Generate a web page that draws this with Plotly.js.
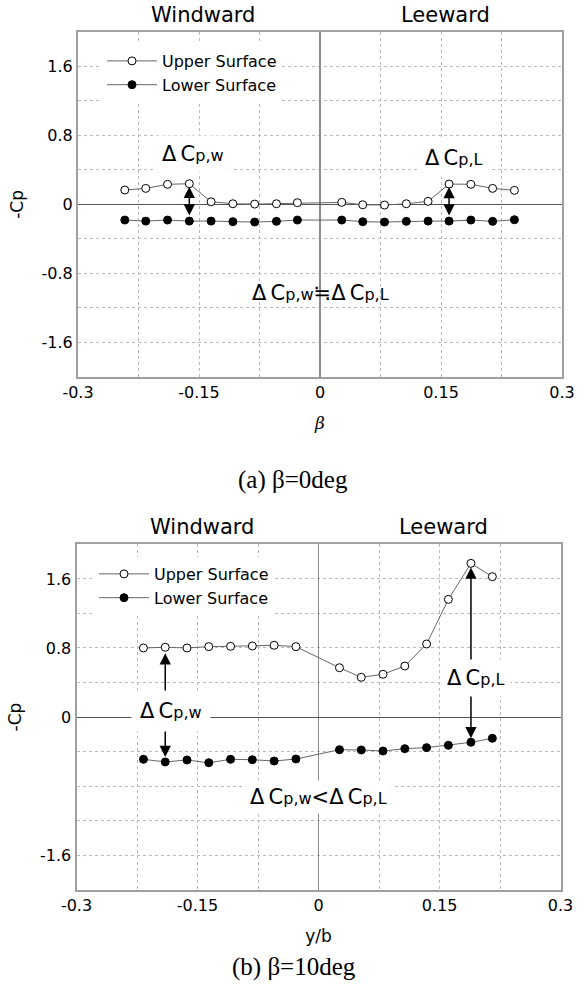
<!DOCTYPE html>
<html><head><meta charset="utf-8">
<script src="https://cdn.plot.ly/plotly-3.0.1.min.js"></script>
<style>html,body{margin:0;padding:0;background:#fff}#chart{width:585px;height:1004px}</style>
</head><body><div id="chart"></div>
<script>
// ---- data ----
const seriesNames = ['Upper Surface', 'Lower Surface'];
const xTicks = [-0.3, -0.15, 0, 0.15, 0.3];
const xTickLabels = ['-0.3', '-0.15', '0', '0.15', '0.3'];
const yTicksTop = [-1.6, -0.8, 0, 0.8, 1.6];
const yTickLabelsTop = ['-1.6', '-0.8', '0', '0.8', '1.6'];
const yTicksBot = [-1.6, 0, 0.8, 1.6];
const yTickLabelsBot = ['-1.6', '0', '0.8', '1.6'];

// (a) beta = 0 deg
const xA = [-0.242, -0.216, -0.189, -0.162, -0.135, -0.108, -0.081, -0.054, -0.028,
             0.027, 0.053, 0.080, 0.107, 0.134, 0.160, 0.187, 0.214, 0.241];
const upperA = [0.166, 0.185, 0.232, 0.239, 0.030, 0.007, 0.003, 0.007, 0.019,
                0.023, -0.005, -0.008, 0.007, 0.035, 0.235, 0.232, 0.185, 0.162];
const lowerA = [-0.182, -0.194, -0.182, -0.194, -0.194, -0.201, -0.205, -0.197, -0.182,
                -0.182, -0.201, -0.205, -0.197, -0.194, -0.194, -0.182, -0.197, -0.178];

// (b) beta = 10 deg
const xB = [-0.217, -0.190, -0.163, -0.136, -0.109, -0.082, -0.055, -0.028,
             0.026, 0.053, 0.080, 0.107, 0.134, 0.161, 0.189, 0.2155];
const upperB = [0.800, 0.808, 0.800, 0.815, 0.819, 0.823, 0.831, 0.815,
                0.571, 0.460, 0.495, 0.591, 0.846, 1.363, 1.780, 1.626];
const lowerB = [-0.490, -0.521, -0.498, -0.530, -0.490, -0.495, -0.510, -0.487,
                -0.379, -0.382, -0.394, -0.367, -0.355, -0.328, -0.293, -0.247];

// indices of the points marked with delta arrows
const iWA = 3, iLA = 14, iWB = 1, iLB = 14;

// ---- styling ----
const FONT = 'DejaVu Sans, Verdana, sans-serif';
const GRID = '#b8b8b8';
const H = 1004, W = 585;
const py = v => 1 - v / H, px = v => v / W;

function dcp(sub, big, small) {
  return 'Δ\u2009C<span style="font-size:' + small + 'px">p,' + sub + '</span>';
}

function xaxis(domain, anchor, title, italic) {
  return {
    domain: domain, anchor: anchor, range: [-0.3, 0.3],
    tickvals: xTicks, ticktext: xTickLabels, ticks: '',
    tickfont: {size: 16, color: '#000'},
    showgrid: true, gridcolor: GRID, griddash: 'dot', gridwidth: 1,
    minor: {tick0: 0, dtick: 0.075, showgrid: true, gridcolor: GRID, griddash: 'dot', gridwidth: 1, ticks: ''},
    zeroline: true, zerolinecolor: '#8c8c8c', zerolinewidth: 1.5,
    showline: true, mirror: true, linecolor: '#a0a0a0', linewidth: 2,
    automargin: false, fixedrange: true,
    title: {text: title, font: {size: 17, color: '#000', family: italic ? 'DejaVu Serif' : FONT, style: italic ? 'italic' : 'normal'}, standoff: 16}
  };
}
function yaxis(domain, anchor, tv, tt) {
  return {
    domain: domain, anchor: anchor, range: [-2, 2],
    tickvals: tv, ticktext: tt, ticks: '',
    tickfont: {size: 16, color: '#000'},
    showgrid: true, gridcolor: GRID, griddash: 'dot', gridwidth: 1,
    minor: {tick0: 0, dtick: 0.4, showgrid: true, gridcolor: GRID, griddash: 'dot', gridwidth: 1, ticks: ''},
    zeroline: true, zerolinecolor: '#555', zerolinewidth: 1,
    showline: true, mirror: true, linecolor: '#a0a0a0', linewidth: 2,
    automargin: false, fixedrange: true,
    title: {text: '-Cp', font: {size: 17, color: '#000'}, standoff: 14}
  };
}

function pair(x, up, lo, xa, ya, leg) {
  return [
    {x: x, y: up, xaxis: xa, yaxis: ya, legend: leg, name: seriesNames[0], type: 'scatter', mode: 'lines+markers',
     line: {color: '#666', width: 1}, marker: {symbol: 'circle', size: 8, color: '#fff', line: {color: '#000', width: 1}}},
    {x: x, y: lo, xaxis: xa, yaxis: ya, legend: leg, name: seriesNames[1], type: 'scatter', mode: 'lines+markers',
     line: {color: '#666', width: 1}, marker: {symbol: 'circle', size: 8, color: '#000', line: {color: '#000', width: 1}}}
  ];
}

const data = [].concat(pair(xA, upperA, lowerA, 'x', 'y', 'legend'),
                       pair(xB, upperB, lowerB, 'x2', 'y2', 'legend2'));

function arrow(xr, yr, x, y, ax, ay, extra) {
  return Object.assign({xref: xr, yref: yr, axref: xr, ayref: yr, x: x, y: y, ax: ax, ay: ay, text: '',
    showarrow: true, arrowhead: 2, arrowsize: 1.5, arrowwidth: 1.5, arrowcolor: '#000', standoff: 4}, extra || {});
}
function label(xr, yr, x, y, text, bg, pad) {
  return {xref: xr, yref: yr, x: x, y: y, text: text, showarrow: false,
    font: {size: 21, color: '#000'}, bgcolor: bg ? '#fff' : 'rgba(0,0,0,0)', borderpad: pad || 0};
}
function sideTitle(xr, yr, x, text) {
  return {xref: xr, yref: yr + ' domain', x: x, y: 1, yanchor: 'middle', yshift: 17, text: text,
    showarrow: false, font: {size: 21, color: '#000'}};
}

const annotations = [
  sideTitle('x', 'y', -0.145, 'Windward'),
  sideTitle('x', 'y', 0.155, 'Leeward'),
  sideTitle('x2', 'y2', -0.145, 'Windward'),
  sideTitle('x2', 'y2', 0.155, 'Leeward'),
  // (a)
  arrow('x', 'y', xA[iWA], upperA[iWA], xA[iWA], lowerA[iWA], {arrowside: 'end+start', startarrowhead: 2, startarrowsize: 1.5, standoff: 3, startstandoff: 4}),
  arrow('x', 'y', xA[iLA], upperA[iLA], xA[iLA], lowerA[iLA], {arrowside: 'end+start', startarrowhead: 2, startarrowsize: 1.5, standoff: 3, startstandoff: 4}),
  label('x', 'y', -0.157, 0.58, dcp('w', 21, 16), true, 6),
  label('x', 'y', 0.166, 0.54, dcp('L', 21, 16), true, 6),
  label('x', 'y', 0.0, -1.03, dcp('w', 21, 16) + '≒' + dcp('L', 21, 16), false, 0),
  // (b)
  arrow('x2', 'y2', xB[iWB], upperB[iWB], xB[iWB], 0.275, {standoff: 6}),
  arrow('x2', 'y2', xB[iWB], lowerB[iWB], xB[iWB], -0.08, {standoff: 5}),
  arrow('x2', 'y2', xB[iLB], upperB[iLB], xB[iLB], 0.64, {standoff: 4}),
  arrow('x2', 'y2', xB[iLB], lowerB[iLB], xB[iLB], 0.28, {standoff: 4}),
  label('x2', 'y2', -0.183, 0.07, dcp('w', 21, 16), true, 8),
  label('x2', 'y2', 0.195, 0.45, dcp('L', 21, 16), true, 6),
  label('x2', 'y2', 0.0, -0.923, dcp('w', 21, 16) + '<' + dcp('L', 21, 16), true, 4),
  // captions
  {xref: 'paper', yref: 'paper', x: px(293), y: py(480), text: '(a) β=0deg', showarrow: false,
   font: {family: 'Liberation Serif, Times New Roman, serif', size: 25, color: '#000'}},
  {xref: 'paper', yref: 'paper', x: px(294), y: py(983), text: '(b) β=10deg', showarrow: false,
   font: {family: 'Liberation Serif, Times New Roman, serif', size: 25, color: '#000'}}
];

const legendBase = {xanchor: 'left', yanchor: 'top', bgcolor: '#fff', borderwidth: 0,
  font: {size: 16, color: '#000'}, itemwidth: 50, tracegroupgap: 0};

const layout = {
  width: W, height: H, margin: {l: 0, r: 0, t: 0, b: 0},
  paper_bgcolor: '#fff', plot_bgcolor: '#fff',
  font: {family: FONT, color: '#000'},
  xaxis: xaxis([px(78), px(562)], 'y', 'β', true),
  yaxis: yaxis([py(377), py(31.7)], 'x', yTicksTop, yTickLabelsTop),
  xaxis2: xaxis([px(76.5), px(560.5)], 'y2', 'y/b', false),
  yaxis2: yaxis([py(889.6), py(544.4)], 'x2', yTicksBot, yTickLabelsBot),
  legend: Object.assign({x: px(102), y: py(44)}, legendBase),
  legend2: Object.assign({x: px(94), y: py(557)}, legendBase),
  annotations: annotations,
  showlegend: true
};

Plotly.newPlot('chart', data, layout, {staticPlot: true, displayModeBar: false});
</script>
</body></html>
